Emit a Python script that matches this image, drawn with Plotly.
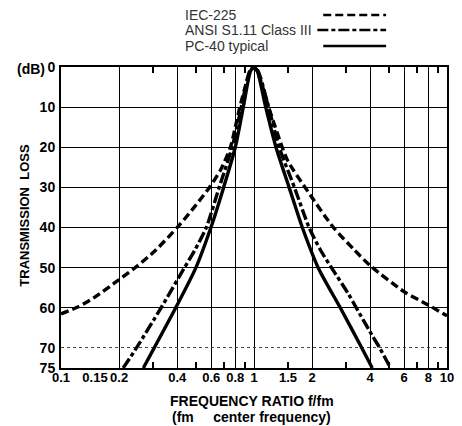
import plotly.graph_objects as go

# ---- data ----
f_iec = [0.1, 0.122, 0.147, 0.2, 0.25, 0.31, 0.407, 0.5, 0.59, 0.672, 0.755, 0.80, 0.845, 0.90, 0.95, 1.0,
         1.05, 1.11, 1.19, 1.29, 1.40, 1.50, 1.9, 2.58, 3.3, 4.0, 6.0, 8.0, 10.0]
tl_iec = [61.5, 59.8, 57.6, 53.0, 49.5, 45.6, 39.6, 34.4, 29.9, 25.6, 20.0, 15.0, 10.0, 5.0, 1.5, 0.0,
          1.5, 5.0, 10.0, 15.0, 20.0, 23.5, 31.0, 40.0, 45.5, 49.5, 56.0, 59.3, 62.0]

f_ansi = [0.21, 0.246, 0.33, 0.436, 0.494, 0.566, 0.66, 0.77, 0.86, 0.95, 1.0,
          1.05, 1.19, 1.35, 1.62, 1.93, 2.21, 2.52, 3.08, 3.39, 4.05, 4.48, 5.1]
tl_ansi = [75.0, 70.0, 60.0, 50.0, 45.6, 40.0, 30.0, 20.0, 10.0, 1.0, 0.0,
           1.0, 10.0, 20.0, 30.0, 40.0, 45.6, 50.0, 56.5, 60.0, 66.5, 70.0, 75.0]

f_pc = [0.267, 0.304, 0.393, 0.50, 0.598, 0.696, 0.80, 0.88, 0.96, 1.0,
        1.04, 1.15, 1.30, 1.52, 1.78, 2.15, 2.8, 3.62, 4.1]
tl_pc = [75.0, 70.0, 60.0, 50.0, 40.0, 30.0, 20.0, 10.0, 1.0, 0.0,
         1.0, 10.0, 20.0, 30.0, 40.0, 50.0, 60.0, 70.0, 75.0]

series_names = ["IEC-225", "ANSI S1.11 Class III", "PC-40 typical"]

x_tick_vals = [0.1, 0.15, 0.2, 0.4, 0.6, 0.8, 1, 1.5, 2, 4, 6, 8, 10]
x_tick_text = ["0.1", "0.15", "0.2", "0.4", "0.6", "0.8", "1", "1.5", "2", "4", "6", "8", "10"]
x_grid_vals = [0.2, 0.4, 0.6, 0.8, 1, 2, 4, 6, 8]
x_minor_ticks = [0.3, 0.5, 0.7, 0.9, 1.5, 3, 5, 7, 9]
y_tick_vals = [0, 10, 20, 30, 40, 50, 60, 70, 75]
y_grid_vals = [10, 20, 30, 40, 50, 60]
y_dotted_grid = [70]

# ---- styling ----
FONT = "Liberation Sans"
DASH_IEC = "8px,4px"
DASH_ANSI = "11px,3px,4px,3px"
W, H = 462, 426
L, R, T, B = 61, 8, 67, 58
pw, ph = W - L - R, H - T - B


def px_x(p):
    return (p - L) / pw


def px_y(p):
    return (H - B - p) / ph


fig = go.Figure()
styles = [(f_iec, tl_iec, DASH_IEC), (f_ansi, tl_ansi, DASH_ANSI), (f_pc, tl_pc, "solid")]
for (fx, ty, dash), name in zip(styles, series_names):
    fig.add_trace(go.Scatter(x=fx, y=ty, mode="lines", name=name,
                             line=dict(color="black", width=3.4, dash=dash, shape="spline", smoothing=0.7),
                             showlegend=False, hoverinfo="skip"))

# invisible trace to activate the overlay axes (ticks on top/bottom, dotted 70 line)
fig.add_trace(go.Scatter(x=f_pc, y=tl_pc, xaxis="x2", yaxis="y2", mode="lines",
                         line=dict(width=0), opacity=0, showlegend=False, hoverinfo="skip"))

fig.update_layout(
    width=W, height=H,
    margin=dict(l=L, r=R, t=T, b=B),
    paper_bgcolor="white", plot_bgcolor="white",
    font=dict(family=FONT, color="black"),
    xaxis=dict(type="log", range=[-1, 1], tickmode="array", tickvals=x_tick_vals, ticktext=x_tick_text,
               tickangle=0, showgrid=False, ticks="", zeroline=False,
               showline=True, linecolor="black", linewidth=2, mirror=True,
               tickfont=dict(family=FONT, size=13, color="black", weight="bold"),
               ticklabelstandoff=-4,
               minor=dict(tickmode="array", tickvals=x_grid_vals, showgrid=True,
                          gridcolor="black", gridwidth=1, ticks="")),
    xaxis2=dict(type="log", range=[-1, 1], overlaying="x", anchor="y2", side="top",
                tickmode="array", tickvals=x_minor_ticks, ticks="inside", ticklen=6,
                tickwidth=1.5, tickcolor="black", showticklabels=False, showgrid=False,
                showline=True, linecolor="black", linewidth=2, mirror="ticks", zeroline=False),
    yaxis=dict(range=[75, 0], tickmode="array", tickvals=y_tick_vals,
               showgrid=False, ticks="", zeroline=False,
               showline=True, linecolor="black", linewidth=2, mirror=True,
               tickfont=dict(family=FONT, size=14, color="black", weight="bold"),
               ticklabelstandoff=1,
               minor=dict(tickmode="array", tickvals=y_grid_vals, showgrid=True,
                          gridcolor="black", gridwidth=1, ticks="")),
    yaxis2=dict(range=[75, 0], overlaying="y", anchor="x2", side="right",
                tickmode="array", tickvals=y_dotted_grid, showgrid=True, gridcolor="#444",
                griddash="dot", gridwidth=1, showticklabels=False, ticks="", zeroline=False,
                showline=False),
)

ann = [
    dict(text="(dB)", x=px_x(30), y=px_y(69), font=dict(size=14, weight="bold")),
    dict(text="TRANSMISSION\u00a0\u00a0LOSS", x=px_x(23), y=px_y(215), textangle=-90,
         font=dict(size=13, weight="bold")),
    dict(text="FREQUENCY RATIO f/fm", x=px_x(255), y=px_y(401), font=dict(size=14, weight="bold")),
    dict(text="(fm\u00a0\u00a0\u00a0\u00a0\u00a0center frequency)", x=px_x(255), y=px_y(417),
         font=dict(size=14, weight="bold")),
]
leg_y = [15, 30, 46]
for name, yy in zip(series_names, leg_y):
    ann.append(dict(text=name, x=px_x(185), y=px_y(yy), xanchor="left",
                    font=dict(size=14, color="#333")))
for a in ann:
    a.setdefault("xanchor", "center")
    a.update(xref="paper", yref="paper", showarrow=False, yanchor="middle")
    fig.add_annotation(**a)

shapes = []
for (x0, dash), yy in zip([(328, DASH_IEC), (322, DASH_ANSI), (328, "solid")], leg_y):
    shapes.append(dict(type="line", xref="paper", yref="paper", x0=px_x(x0), x1=px_x(392),
                       y0=px_y(yy), y1=px_y(yy), line=dict(color="black", width=2.5, dash=dash)))
fig.update_layout(shapes=shapes)

fig.write_html("out.html", config={"displayModeBar": False},
               post_script="document.body.style.margin='0';document.body.style.overflow='hidden';")
